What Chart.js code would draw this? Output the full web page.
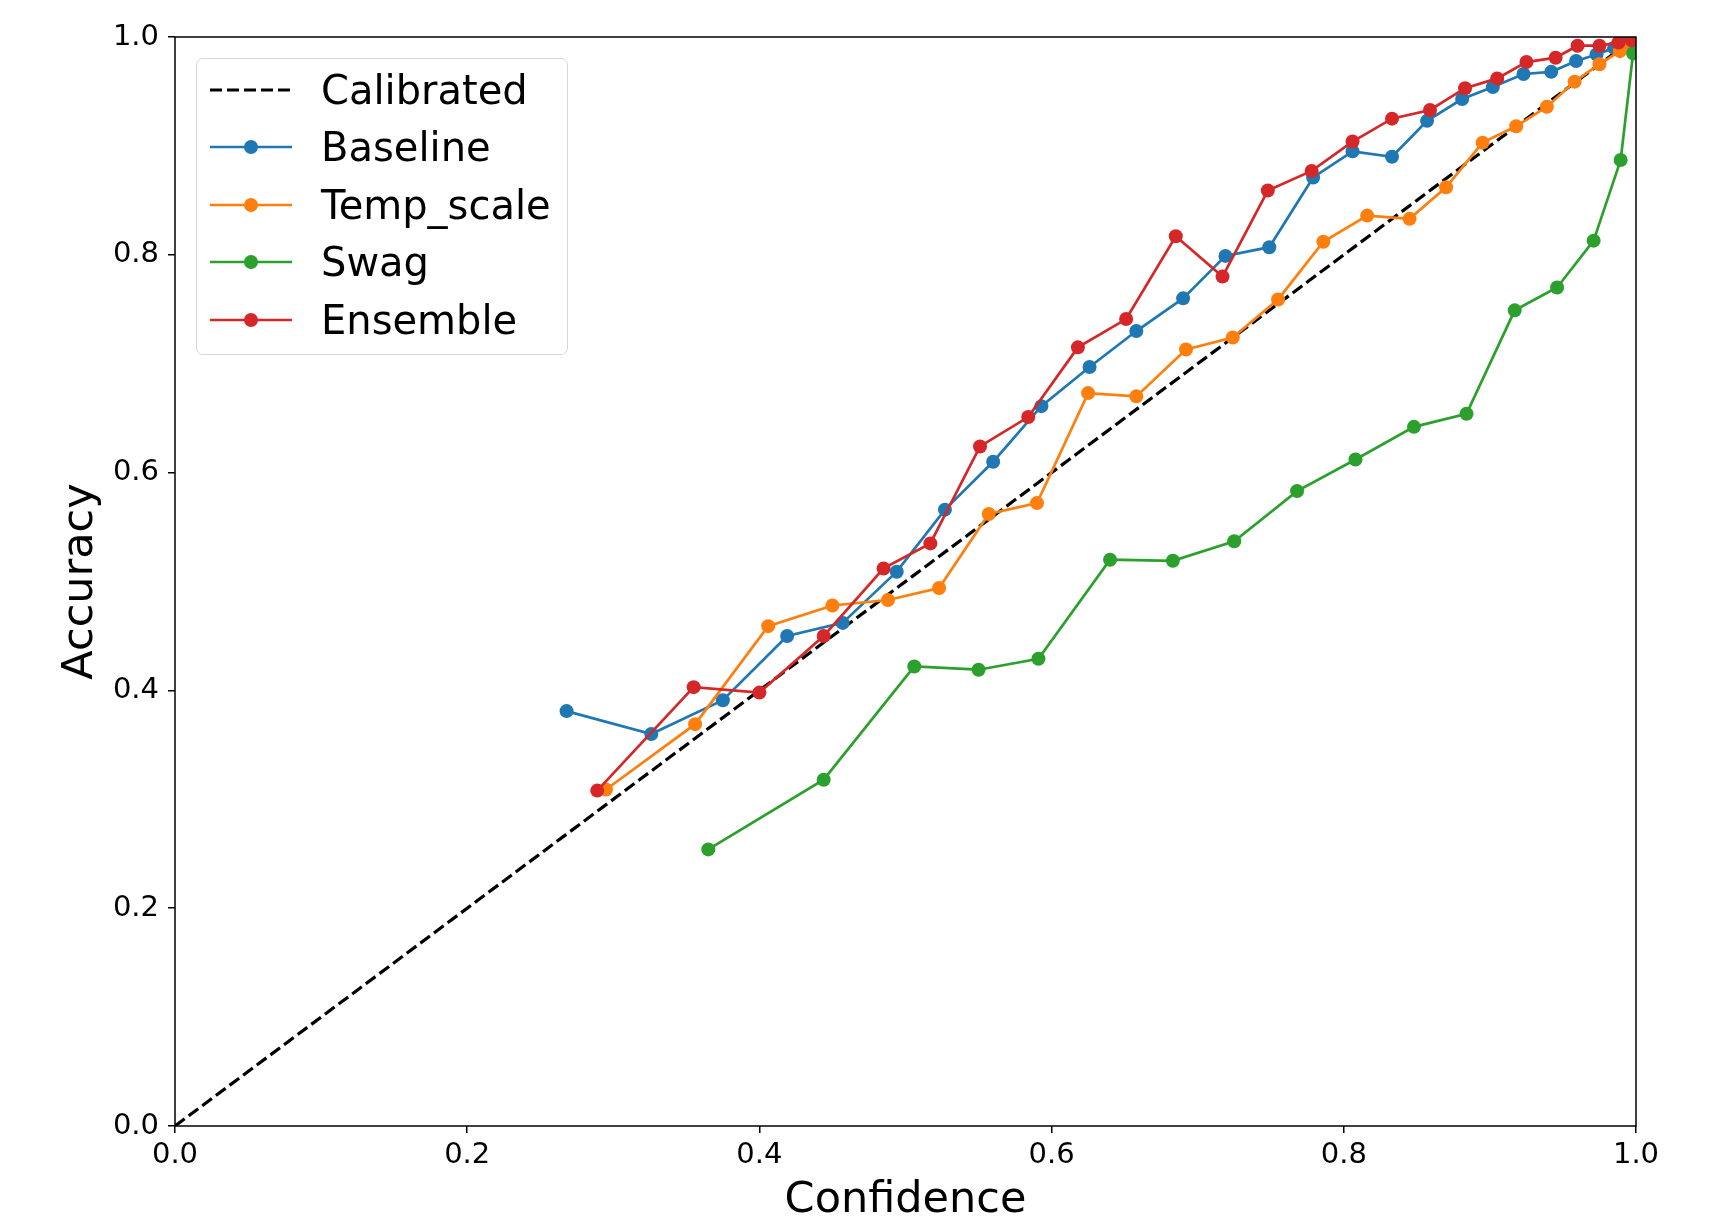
<!DOCTYPE html>
<html>
<head>
<meta charset="utf-8">
<script src="https://cdn.jsdelivr.net/npm/chart.js@4.4.1/dist/chart.umd.min.js"></script>
<style>
html,body{margin:0;padding:0;background:#fff;}
#wrap{position:relative;width:1718px;height:1218px;}
#c{position:absolute;left:0;top:0;}
#legend{position:absolute;left:196px;top:58px;width:372px;height:297px;box-sizing:border-box;border:1.5px solid #d6d6d6;border-radius:7px;background:rgba(255,255,255,0.85);font-family:'DejaVu Sans';font-size:40px;color:#000;}
.lrow{position:absolute;left:0;width:100%;height:0;}
.lsample{position:absolute;left:12px;top:-12px;}
.ltext{position:absolute;left:124px;top:0;line-height:1;transform:translateY(-50%);white-space:nowrap;}
</style>
</head>
<body>
<div id="wrap">
<canvas id="c" width="1718" height="1218"></canvas>
<div id="legend"></div>
</div>
<script>
// ---- data ----
const seriesNames = ['Calibrated', 'Baseline', 'Temp_scale', 'Swag', 'Ensemble'];
const seriesColors = ['#000000', '#1f77b4', '#ff7f0e', '#2ca02c', '#d62728'];

const calibratedConf = [0, 1];
const calibratedAcc  = [0, 1];

const baselineConf = [0.268,0.326,0.375,0.419,0.457,0.494,0.527,0.560,0.593,0.626,0.658,0.690,0.719,0.749,0.779,0.806,0.833,0.857,0.881,0.902,0.923,0.942,0.959,0.973,0.985,0.994];
const baselineAcc  = [0.381,0.360,0.391,0.450,0.462,0.509,0.566,0.610,0.661,0.697,0.730,0.760,0.799,0.807,0.871,0.895,0.890,0.923,0.943,0.954,0.966,0.968,0.978,0.984,0.990,0.995];

const tempConf = [0.295,0.356,0.406,0.450,0.488,0.523,0.557,0.590,0.625,0.658,0.692,0.724,0.755,0.786,0.816,0.845,0.870,0.895,0.918,0.939,0.958,0.975,0.989,0.997];
const tempAcc  = [0.309,0.369,0.459,0.478,0.483,0.494,0.562,0.572,0.673,0.670,0.713,0.724,0.759,0.812,0.836,0.833,0.862,0.903,0.918,0.936,0.959,0.975,0.987,0.993];

const swagConf = [0.365,0.444,0.506,0.550,0.591,0.640,0.683,0.725,0.768,0.808,0.848,0.884,0.917,0.946,0.971,0.9895,0.998];
const swagAcc  = [0.254,0.318,0.422,0.419,0.429,0.520,0.519,0.537,0.583,0.612,0.642,0.654,0.749,0.770,0.813,0.887,0.985];

const ensembleConf = [0.289,0.355,0.400,0.444,0.485,0.517,0.551,0.584,0.618,0.651,0.685,0.717,0.748,0.778,0.806,0.833,0.859,0.883,0.905,0.925,0.945,0.960,0.975,0.988,0.997];
const ensembleAcc  = [0.308,0.403,0.398,0.450,0.512,0.535,0.624,0.651,0.715,0.741,0.817,0.780,0.859,0.877,0.904,0.925,0.933,0.953,0.962,0.977,0.981,0.992,0.992,0.995,0.997];

const xTickValues = [0, 0.2, 0.4, 0.6, 0.8, 1.0];
const yTickValues = [0, 0.2, 0.4, 0.6, 0.8, 1.0];
const xTitle = 'Confidence';
const yTitle = 'Accuracy';

// ---- build ----
function pts(xs, ys) { return xs.map((x, i) => ({x: x, y: ys[i]})); }
const seriesData = [
  pts(calibratedConf, calibratedAcc),
  pts(baselineConf, baselineAcc),
  pts(tempConf, tempAcc),
  pts(swagConf, swagAcc),
  pts(ensembleConf, ensembleAcc)
];
const DASH = [12, 5];

const datasets = seriesData.map((d, i) => {
  const isCal = i === 0;
  return {
    label: seriesNames[i],
    data: d,
    showLine: true,
    borderColor: seriesColors[i],
    backgroundColor: seriesColors[i],
    borderWidth: isCal ? 3.2 : 2.7,
    borderDash: isCal ? DASH : [],
    pointRadius: isCal ? 0 : 7,
    pointHoverRadius: isCal ? 0 : 7,
    pointBorderWidth: 0,
    pointBackgroundColor: seriesColors[i],
    tension: 0,
    clip: 0,
    order: seriesNames.length - i
  };
});

const frame = {
  id: 'frame',
  afterDatasetsDraw(chart) {
    const a = chart.chartArea, ctx = chart.ctx;
    ctx.save();
    ctx.strokeStyle = '#000';
    ctx.lineWidth = 1.5;
    ctx.strokeRect(a.left, a.top, a.right - a.left, a.bottom - a.top);
    ctx.restore();
  }
};

const tickFont = {family: 'DejaVu Sans', size: 29};
const yTitleFont = {family: 'DejaVu Sans', size: 43, lineHeight: 1};
const xTitleFont = {family: 'DejaVu Sans', size: 43, lineHeight: 0.8};

new Chart(document.getElementById('c'), {
  type: 'scatter',
  data: {datasets: datasets},
  options: {
    responsive: false,
    animation: false,
    devicePixelRatio: 1,
    layout: {padding: {left: 0, right: 82, top: 37, bottom: 0}},
    plugins: {legend: {display: false}, tooltip: {enabled: false}},
    scales: {
      x: {
        type: 'linear', min: 0, max: 1,
        afterBuildTicks: s => { s.ticks = xTickValues.map(v => ({value: v})); },
        afterFit: s => { s.height = 92; },
        ticks: {font: tickFont, color: '#000', padding: 5, maxRotation: 0,
                callback: v => Number(v).toFixed(1)},
        grid: {drawOnChartArea: false, drawTicks: true, tickLength: 7, color: '#000', lineWidth: 1.5},
        border: {display: false},
        title: {display: true, text: xTitle, font: xTitleFont, color: '#000', padding: {top: 0, bottom: 0}}
      },
      y: {
        type: 'linear', min: 0, max: 1,
        afterBuildTicks: s => { s.ticks = yTickValues.map(v => ({value: v})); },
        afterFit: s => { s.width = 175; },
        ticks: {font: tickFont, color: '#000', padding: 9,
                callback: v => Number(v).toFixed(1)},
        grid: {drawOnChartArea: false, drawTicks: true, tickLength: 7, color: '#000', lineWidth: 1.5},
        border: {display: false},
        title: {display: true, text: yTitle, font: yTitleFont, color: '#000', padding: {top: 59, bottom: 0}}
      }
    }
  },
  plugins: [frame]
});

// ---- HTML legend built from the series ----
const legend = document.getElementById('legend');
const rowStart = 30.8, rowStep = 57.5;
seriesNames.forEach((name, i) => {
  const row = document.createElement('div');
  row.className = 'lrow';
  row.style.top = (rowStart + rowStep * i) + 'px';
  const cv = document.createElement('canvas');
  cv.width = 84; cv.height = 24;
  cv.className = 'lsample';
  const g = cv.getContext('2d');
  g.strokeStyle = seriesColors[i];
  g.lineWidth = i === 0 ? 3.2 : 2.7;
  if (i === 0) g.setLineDash(DASH);
  g.beginPath(); g.moveTo(1, 12); g.lineTo(83, 12); g.stroke();
  if (i !== 0) {
    g.fillStyle = seriesColors[i];
    g.beginPath(); g.arc(42, 12, 7, 0, Math.PI * 2); g.fill();
  }
  row.appendChild(cv);
  const t = document.createElement('span');
  t.className = 'ltext';
  t.textContent = name;
  row.appendChild(t);
  legend.appendChild(row);
});
</script>
</body>
</html>
